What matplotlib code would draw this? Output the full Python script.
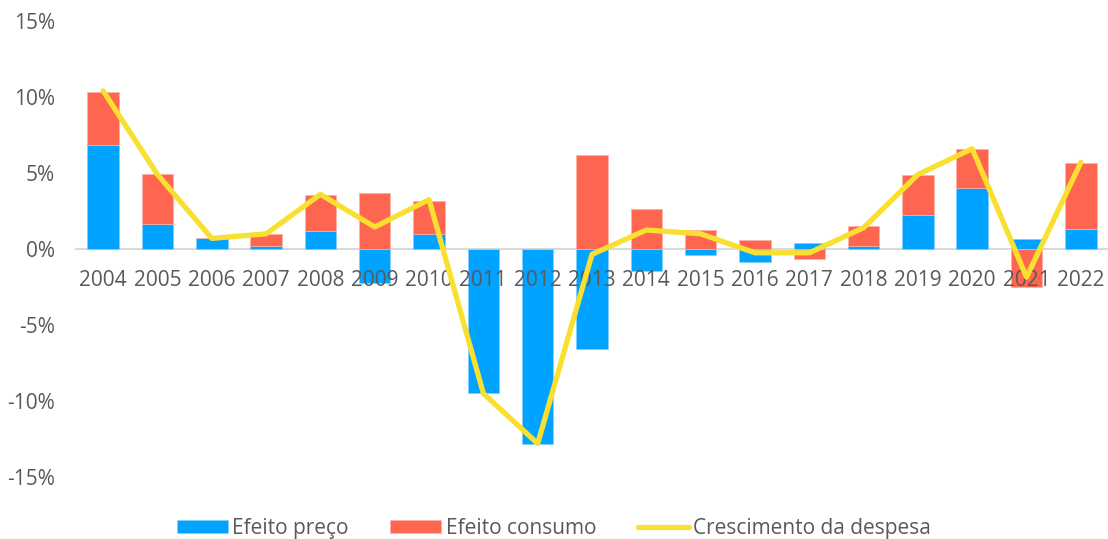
import matplotlib.pyplot as plt
import numpy as np

plt.rcParams['font.family'] = ['Open Sans', 'DejaVu Sans']

# data (% growth)
years = [str(y) for y in range(2004, 2023)]
efeito_preco = [6.85, 1.65, 0.72, 0.2, 1.2, -2.25, 1.0, -9.5, -12.8, -6.6,
                -1.45, -0.4, -0.87, 0.42, 0.2, 2.25, 4.0, 0.65, 1.3]
efeito_consumo = [3.45, 3.3, 0.0, 0.8, 2.35, 3.7, 2.15, 0.0, 0.0, 6.2,
                  2.6, 1.25, 0.6, -0.65, 1.3, 2.6, 2.55, -2.5, 4.35]
crescimento = [10.4, 4.9, 0.7, 1.0, 3.6, 1.45, 3.25, -9.5, -12.8, -0.35,
               1.25, 1.0, -0.25, -0.25, 1.4, 4.9, 6.6, -1.85, 5.7]
yticks = [-15, -10, -5, 0, 5, 10, 15]

blue = '#00A3FF'
red = '#FF6650'
yellow = '#F9E030'
txt = '#595959'

x = np.arange(len(years))
preco = np.array(efeito_preco)
cons = np.array(efeito_consumo)

# stack positives upward and negatives downward, like Excel
pos_base = np.where(preco > 0, preco, 0)
neg_base = np.where(preco < 0, preco, 0)
cons_bottom = np.where(cons >= 0, pos_base, neg_base)

fig = plt.figure(figsize=(11.08, 5.39), dpi=100)
ax = fig.add_axes([0.0686, 0.115, 0.9314, 0.846])

w = 0.58
b1 = ax.bar(x, preco, width=w, color=blue, edgecolor='#7FD0FF', linewidth=0.5,
            label='Efeito preço', zorder=3)
b2 = ax.bar(x, cons, width=w, bottom=cons_bottom, color=red, edgecolor='#FFB0A5',
            linewidth=0.5, label='Efeito consumo', zorder=3)
l1, = ax.plot(x, crescimento, color=yellow, lw=3.8, solid_capstyle='round',
              solid_joinstyle='round', label='Crescimento da despesa', zorder=4)

ax.set_xlim(-0.5, len(years) - 0.5)
ax.set_ylim(-15, 15)
ax.set_yticks(yticks)
ax.set_yticklabels([f'{v}%' for v in yticks])
ax.set_xticks(x)
ax.set_xticklabels(years)

for s in ['top', 'right', 'left']:
    ax.spines[s].set_visible(False)
ax.spines['bottom'].set_position(('data', 0))
ax.spines['bottom'].set_color('#D9D9D9')
ax.spines['bottom'].set_linewidth(1.5)
ax.spines['bottom'].set_zorder(2)
ax.xaxis.set_zorder(3.5)  # year labels over the bars, under the line
ax.tick_params(axis='x', length=0, pad=15, labelsize=15, labelcolor=txt)
ax.tick_params(axis='y', length=0, pad=15, labelsize=15, labelcolor=txt)

fig.legend([b1, b2, l1], ['Efeito preço', 'Efeito consumo', 'Crescimento da despesa'],
           loc='center', bbox_to_anchor=(0.5, 0.02), ncol=3, frameon=False,
           fontsize=15, labelcolor=txt, handlelength=2.45, handleheight=0.55,
           handletextpad=0.2, columnspacing=2.0)

fig.savefig('out.png', dpi=100)
